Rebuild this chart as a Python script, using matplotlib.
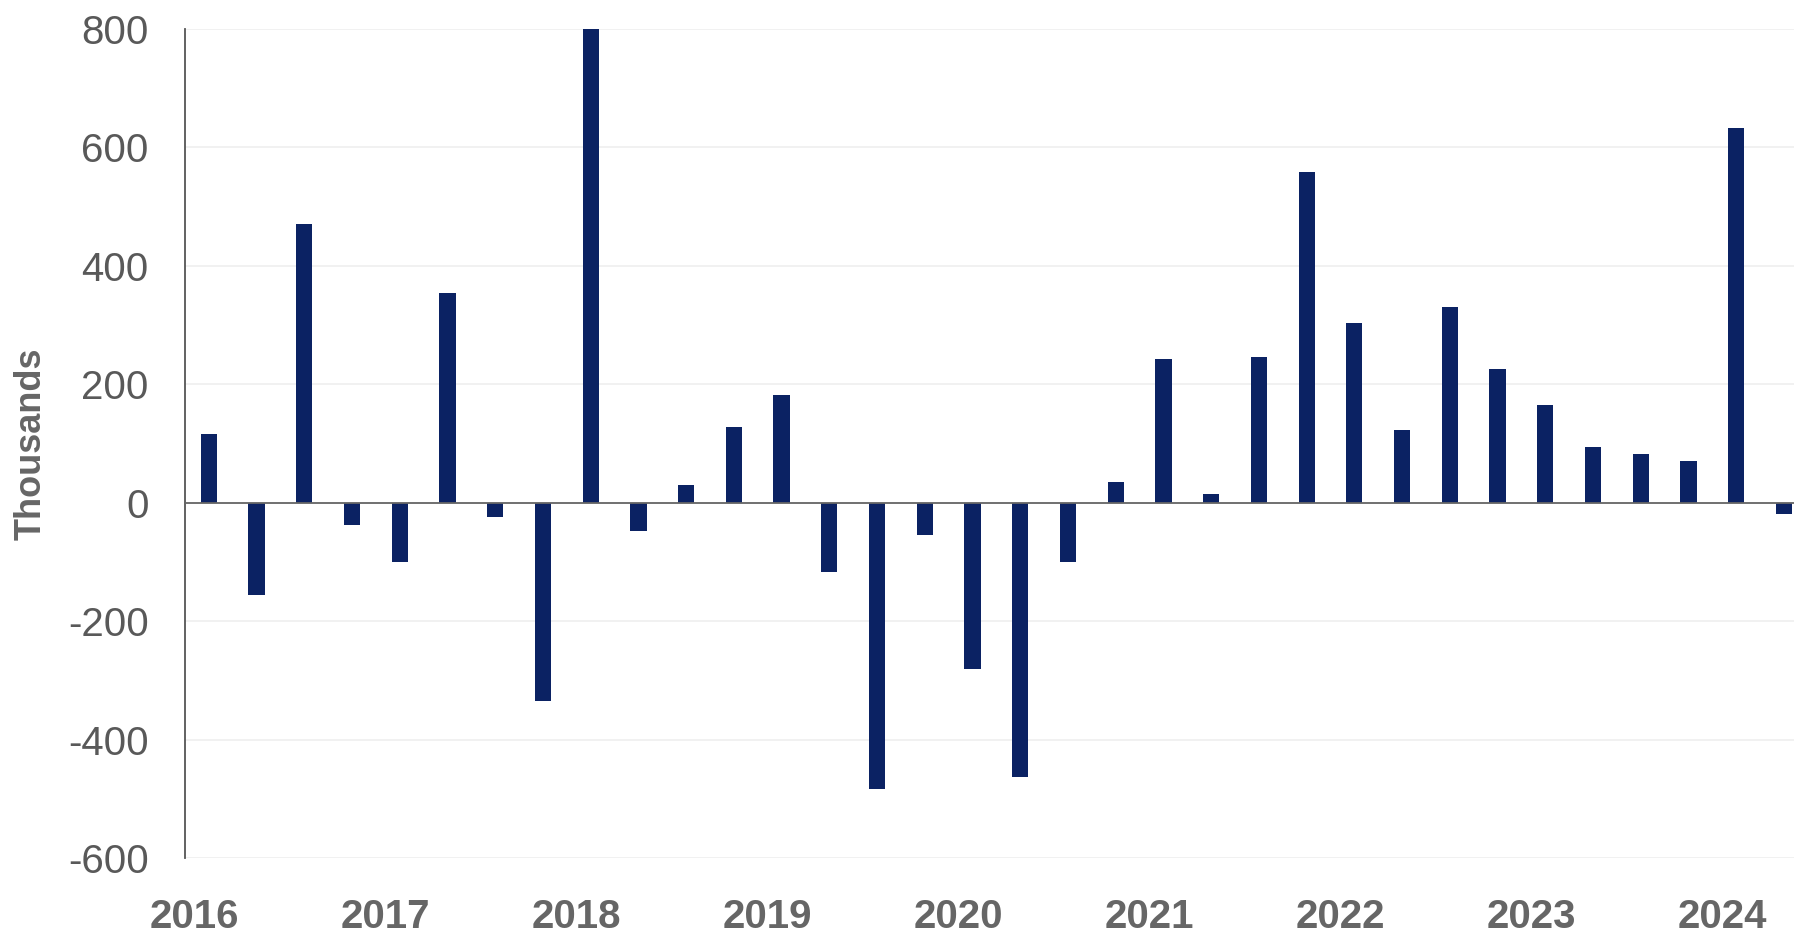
import numpy as np
import matplotlib.pyplot as plt

# ── Дані (тис.) — квартальні значення 2016 Q1 … 2024 Q2 ──────
quarters = [f"{y} Q{q}" for y in range(2016, 2025) for q in range(1, 5)][:34]
values = [116, -156, 470, -38, -100, 354, -24, -335,
          800, -48, 30, 128, 182, -117, -484, -55,
          -281, -463, -100, 35, 242, 14, 246, 558,
          303, 122, 330, 226, 165, 93, 82, 70,
          632, -19]
year_labels = ['2016', '2017', '2018', '2019', '2020', '2021', '2022', '2023', '2024']
y_ticks = [-600, -400, -200, 0, 200, 400, 600, 800]

plt.rcParams['font.family'] = ['Liberation Sans', 'DejaVu Sans']

fig = plt.figure(figsize=(17.94, 9.33), dpi=100)
ax = fig.add_axes([0.1031, 0.0804, 0.9046, 0.8889])

x = np.arange(len(values))
ax.bar(x, values, width=0.34, color='#0b2263', zorder=3)
ax.axhline(0, color='#666666', linewidth=1.3, zorder=4)

ax.set_xlim(-0.5, len(values) - 0.5)
ax.set_ylim(-600, 800)
ax.set_yticks(y_ticks)
ax.set_yticklabels([str(v) for v in y_ticks])   # звичайний дефіс, як у Excel
ax.yaxis.grid(True, color='#efefef', linewidth=1.2, zorder=0)

ax.set_xticks(np.arange(len(year_labels)) * 4 - 0.3)
ax.set_xticklabels(year_labels, fontsize=29, fontweight='bold', color='#666666')
ax.tick_params(axis='x', length=0, pad=29)
ax.tick_params(axis='y', length=0, pad=26, labelsize=29, labelcolor='#595959')

ax.set_ylabel('Thousands', fontsize=26, fontweight='bold', color='#666666')
ax.yaxis.set_label_coords(-0.084, 0.5)

for side in ['top', 'right', 'bottom']:
    ax.spines[side].set_visible(False)
ax.spines['left'].set_color('#555555')
ax.spines['left'].set_linewidth(1.3)

fig.savefig('out.png', dpi=100)
